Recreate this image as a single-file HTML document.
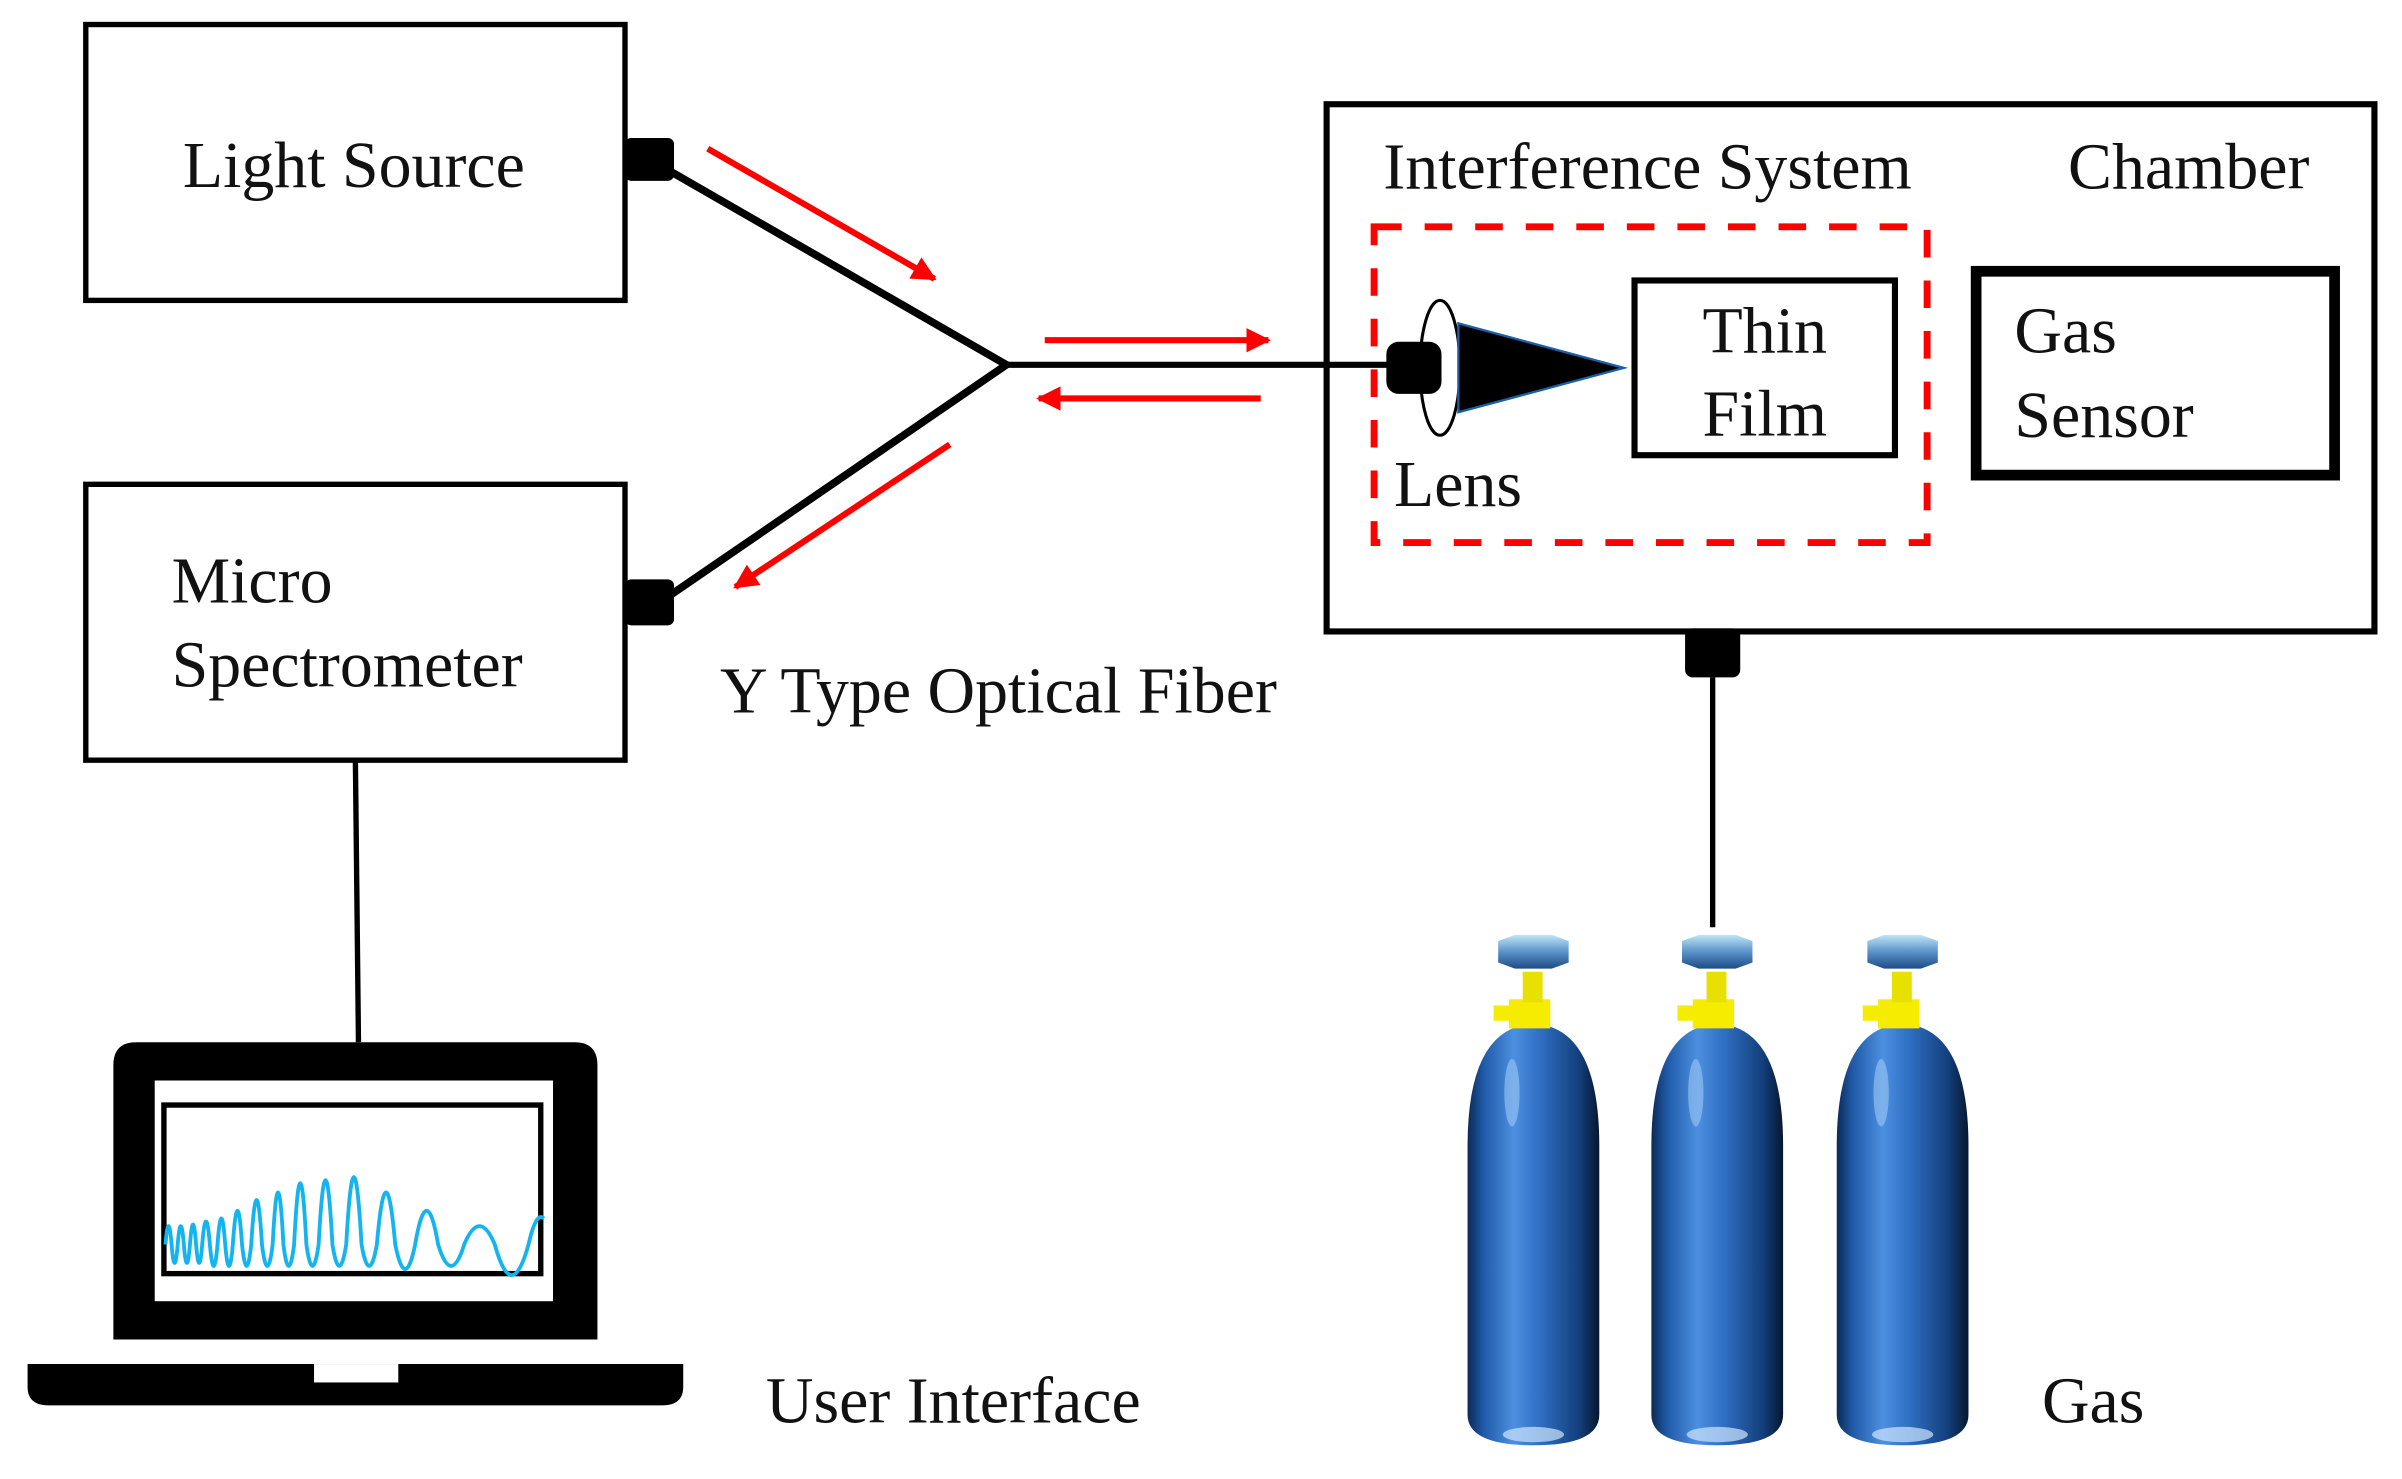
<!DOCTYPE html>
<html><head><meta charset="utf-8"><style>
html,body{margin:0;padding:0;background:#fff;}
svg{display:block;}
text{font-family:"Liberation Serif",serif;font-size:43px;fill:#111;}
</style></head><body>
<svg width="2402" height="1479" viewBox="0 0 1568 965" preserveAspectRatio="none" xmlns="http://www.w3.org/2000/svg">
<defs>
<linearGradient id="cyl" x1="0" x2="1" y1="0" y2="0">
<stop offset="0" stop-color="#0b2a55"/>
<stop offset="0.12" stop-color="#1f5aa8"/>
<stop offset="0.35" stop-color="#4d8fe0"/>
<stop offset="0.55" stop-color="#2f6fc4"/>
<stop offset="0.85" stop-color="#133e7a"/>
<stop offset="1" stop-color="#06172f"/>
</linearGradient>
<linearGradient id="cap" x1="0" x2="0" y1="0" y2="1">
<stop offset="0" stop-color="#bfe6f7"/>
<stop offset="0.5" stop-color="#5b93c8"/>
<stop offset="1" stop-color="#1d4c86"/>
</linearGradient>
<marker id="ah" viewBox="0 0 10 10" refX="9" refY="5" markerWidth="4" markerHeight="4" orient="auto">
<path d="M0 0 L10 5 L0 10 Z" fill="#f00"/>
</marker>
<g id="bottle">
<path d="M-43 80 Q-43 2 0 0 Q43 2 43 80 L43 255 Q43 275 0 275 Q-43 275 -43 255 Z" fill="url(#cyl)"/>
<ellipse cx="-14" cy="45" rx="5" ry="22" fill="#9cc8f5" opacity="0.6"/>
<ellipse cx="0" cy="268" rx="20" ry="5" fill="#cfe6fb" opacity="0.7"/>
<rect x="-16" y="-16" width="27" height="19" fill="#f5ec00"/>
<rect x="-26" y="-12" width="14" height="10" fill="#f5ec00"/>
<rect x="-7" y="-34" width="13" height="20" fill="#e8e000"/>
<path d="M-23 -54 L-12 -58 L12 -58 L23 -54 L23 -40 L12 -36 L-12 -36 L-23 -40 Z" fill="url(#cap)"/>
</g>
</defs>

<rect x="56" y="16" width="352" height="180" fill="none" stroke="#000" stroke-width="3.5"/>
<text x="231" y="122" text-anchor="middle">Light Source</text>
<rect x="408" y="90" width="32" height="28" rx="4" fill="#000"/>

<rect x="56" y="316" width="352" height="180" fill="none" stroke="#000" stroke-width="3.5"/>
<text x="112" y="393">Micro</text>
<text x="112" y="448">Spectrometer</text>
<rect x="408" y="378" width="32" height="30" rx="4" fill="#000"/>

<polyline points="438,112 657,238 438,388" fill="none" stroke="#000" stroke-width="5"/>
<line x1="657" y1="238" x2="910" y2="238" stroke="#000" stroke-width="4"/>
<text x="470" y="465">Y Type Optical Fiber</text>

<line x1="462" y1="97" x2="610" y2="182" stroke="#f00" stroke-width="4" marker-end="url(#ah)"/>
<line x1="682" y1="222" x2="828" y2="222" stroke="#f00" stroke-width="4" marker-end="url(#ah)"/>
<line x1="823" y1="260" x2="678" y2="260" stroke="#f00" stroke-width="4" marker-end="url(#ah)"/>
<line x1="620" y1="290" x2="480" y2="383" stroke="#f00" stroke-width="4" marker-end="url(#ah)"/>

<rect x="866" y="68" width="684" height="344" fill="none" stroke="#000" stroke-width="4"/>
<text x="903" y="123">Interference System</text>
<text x="1350" y="123">Chamber</text>
<rect x="897" y="148" width="361" height="206" fill="none" stroke="#f00" stroke-width="4.5" stroke-dasharray="18,15"/>
<ellipse cx="940" cy="240" rx="13" ry="44" fill="#fff" stroke="#000" stroke-width="2"/>
<rect x="905" y="223" width="36" height="34" rx="8" fill="#000"/>
<path d="M952 211 L1060 240 L952 269 Z" fill="#000" stroke="#1b5fa8" stroke-width="1.5"/>
<rect x="1067" y="183" width="170" height="114" fill="none" stroke="#000" stroke-width="4"/>
<text x="1152" y="230" text-anchor="middle">Thin</text>
<text x="1152" y="284" text-anchor="middle">Film</text>
<text x="910" y="330">Lens</text>
<rect x="1290" y="177" width="234" height="133" fill="none" stroke="#000" stroke-width="7"/>
<text x="1315" y="230">Gas</text>
<text x="1315" y="285">Sensor</text>
<rect x="1100" y="410" width="36" height="32" rx="5" fill="#000"/>
<line x1="1118" y1="442" x2="1118" y2="605" stroke="#000" stroke-width="3.5"/>

<line x1="232" y1="496" x2="234" y2="680" stroke="#000" stroke-width="3.5"/>

<path d="M74 874 L74 695 Q74 680 89 680 L375 680 Q390 680 390 695 L390 874 Z" fill="#000"/>
<rect x="101" y="705" width="260" height="144" fill="#fff"/>
<rect x="107" y="721" width="246" height="110" fill="#fff" stroke="#000" stroke-width="3.5"/>
<path d="M18 890 L446 890 L446 905 Q446 917 432 917 L32 917 Q18 917 18 905 Z" fill="#000"/>
<rect x="205" y="890" width="55" height="12" fill="#fff"/>
<path d="M108 812 Q110 788 112 812 Q114 836 116 812 Q118 788 120 812 Q122 836 124 812 Q126 786 128 812 Q130 836 132 812 Q134.5 782 137 812 Q139.5 840 142 812 Q144.5 778 147 812 Q149.5 840 152 812 Q155 768 158 812 Q161 840 164 812 Q167.5 754 171 812 Q174.5 840 178 812 Q181.5 744 185 812 Q188.5 840 192 812 Q196 732 200 812 Q204 840 208 812 Q212.5 728 217 812 Q221.5 840 226 812 Q231 724 236 812 Q241 840 246 812 Q252 744 258 812 Q264.5 844 271 812 Q278.5 768 286 812 Q294.5 840 303 812 Q313 788 323 812 Q334 852 345 812 Q350 790 355 795" fill="none" stroke="#14b4ee" stroke-width="2.5"/>

<text x="500" y="928">User Interface</text>
<text x="1333" y="928">Gas</text>

<use href="#bottle" x="1001" y="668"/>
<use href="#bottle" x="1121" y="668"/>
<use href="#bottle" x="1242" y="668"/>
</svg>
</body></html>
